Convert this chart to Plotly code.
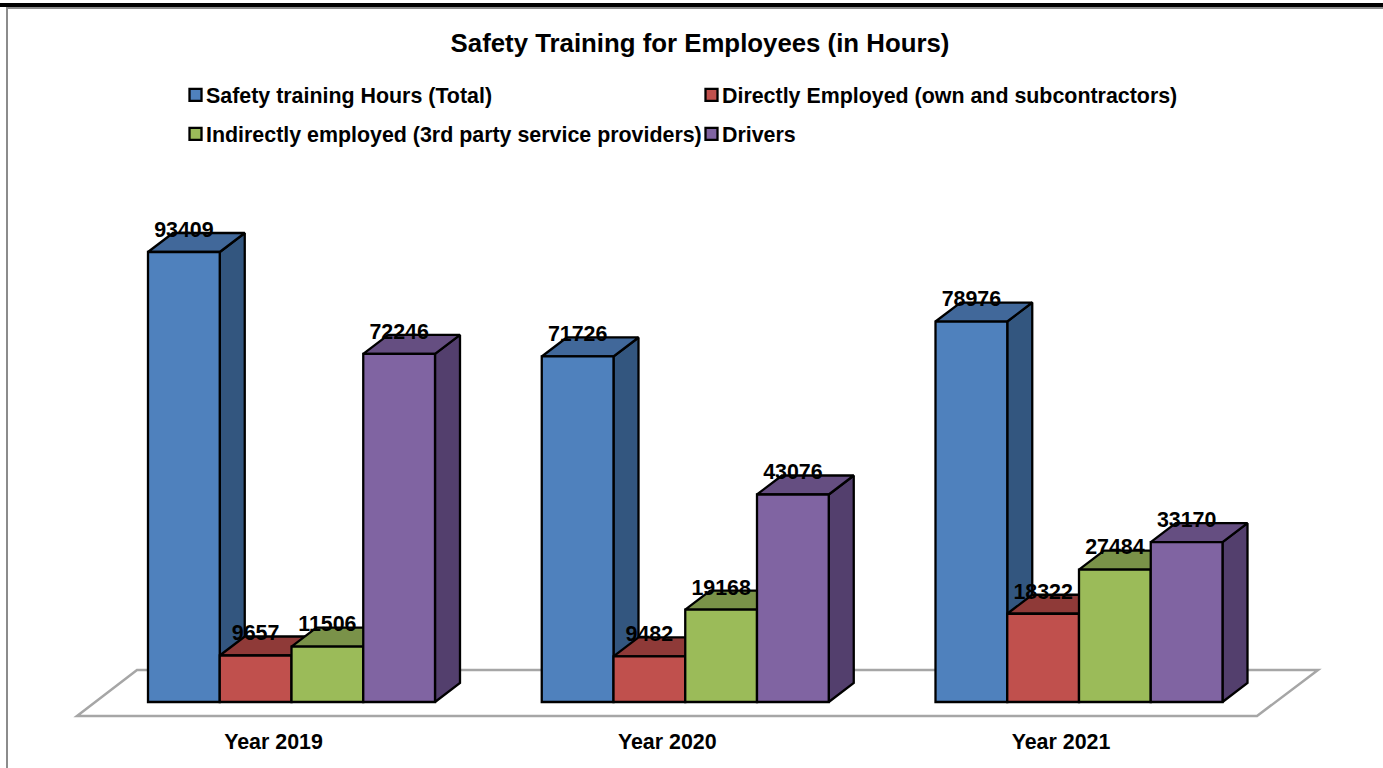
import plotly.graph_objects as go

categories = ["Year 2019", "Year 2020", "Year 2021"]
total_hours = [93409, 71726, 78976]
direct_hours = [9657, 9482, 18322]
indirect_hours = [11506, 19168, 27484]
driver_hours = [72246, 43076, 33170]

series_names = [
    "Safety training Hours (Total)",
    "Directly Employed (own and subcontractors)",
    "Indirectly employed (3rd party service providers)",
    "Drivers",
]
series_values = [total_hours, direct_hours, indirect_hours, driver_hours]
front_colors = ["#4F81BD", "#C0504D", "#9BBB59", "#8064A2"]
top_colors = ["#41689A", "#8F3A38", "#7A9249", "#654E81"]
side_colors = ["#33567F", "#7D3331", "#677C3C", "#533F6D"]
legend_ids = ["legend", "legend", "legend2", "legend2"]

W, H = 1383, 768
PLOT_H = 722
PX_X = 393.75          # pixels per category
PX_Y = 450 / 93409     # pixels per hour
X0_PX, Y0_PX = 291.5, 702
BAR_W = 71.75 / PX_X
DX = 25 / PX_X
DY = 19 / PX_Y
LABEL_DY = 20.5 / PX_Y
FONT = "Liberation Sans"
EDGE = 2.3

x_range = [-X0_PX / PX_X, (W - X0_PX) / PX_X]
y_range = [(Y0_PX - PLOT_H) / PX_Y, Y0_PX / PX_Y]
xpos = list(range(len(categories)))


def px(x):
    return x / W


def py(y):
    return 1 - y / PLOT_H


def bar_left(i, j):
    return i + (j - 2) * BAR_W


fig = go.Figure()

# depth faces, painted series by series so nearer blocks cover farther ones
for j, vals in enumerate(series_values):
    side_x, side_y, top_x, top_y = [], [], [], []
    for i, v in enumerate(vals):
        l = bar_left(i, j)
        r = l + BAR_W
        side_x += [r, r + DX, r + DX, r, r, None]
        side_y += [0, DY, v + DY, v, 0, None]
        top_x += [l, l + DX, r + DX, r, l, None]
        top_y += [v, v + DY, v + DY, v, v, None]
    for xs, ys, col in ((side_x, side_y, side_colors[j]), (top_x, top_y, top_colors[j])):
        fig.add_trace(go.Scatter(
            x=xs, y=ys, mode="lines", fill="toself", fillcolor=col,
            line=dict(color="#000000", width=EDGE), showlegend=False,
            hoverinfo="skip", xaxis="x", yaxis="y",
        ))

# front faces
for j, (name, vals) in enumerate(zip(series_names, series_values)):
    fig.add_trace(go.Bar(
        x=xpos, y=vals, name=name, marker=dict(color=front_colors[j], line=dict(color="#000000", width=EDGE)),
        xaxis="x2", yaxis="y2", legend=legend_ids[j],
    ))

# value labels
for j, vals in enumerate(series_values):
    fig.add_trace(go.Scatter(
        x=[bar_left(i, j) + BAR_W / 2 for i in xpos],
        y=[v + LABEL_DY for v in vals],
        text=[str(v) for v in vals],
        mode="text", textposition="middle center",
        textfont=dict(family=FONT, size=21.4, color="#000000", weight=700),
        showlegend=False, hoverinfo="skip", xaxis="x2", yaxis="y2",
    ))

floor_pts = [(77, 716), (1257, 716), (1318, 670), (137, 670)]
floor_path = "M" + "L".join(f"{px(a):.5f},{py(b):.5f}" for a, b in floor_pts) + "Z"

shapes = [
    dict(type="path", path=floor_path, xref="paper", yref="paper", layer="below",
         line=dict(color="#A6A6A6", width=2.5), fillcolor="#FFFFFF"),
    dict(type="line", xref="paper", yref="paper", x0=px(7), x1=px(7), y0=py(7), y1=py(768),
         line=dict(color="#8C8C8C", width=2), layer="below"),
    dict(type="line", xref="paper", yref="paper", x0=px(6), x1=1, y0=py(8), y1=py(8),
         line=dict(color="#8C8C8C", width=2), layer="below"),
    dict(type="rect", xref="paper", yref="paper", x0=0, x1=1, y0=py(3), y1=py(7),
         line=dict(width=0), fillcolor="#000000", layer="above"),
]

legend_common = dict(
    orientation="h", xanchor="left", yanchor="middle", indentation=-15, itemwidth=30,
    entrywidth=486, entrywidthmode="pixels", bgcolor="rgba(0,0,0,0)", borderwidth=0,
    font=dict(family=FONT, size=21.4, color="#000000", weight=700),
    itemclick=False, itemdoubleclick=False, traceorder="normal",
)

fig.update_layout(
    width=W, height=H,
    margin=dict(l=0, r=0, t=0, b=H - PLOT_H, pad=0, autoexpand=False),
    paper_bgcolor="#FFFFFF", plot_bgcolor="rgba(0,0,0,0)",
    barmode="group", bargap=1 - 4 * BAR_W, bargroupgap=0,
    title=dict(text="Safety Training for Employees (in Hours)", x=700 / W, xref="paper", xanchor="center",
               y=1 - 43 / H, yref="container", yanchor="middle",
               font=dict(family=FONT, size=25.8, color="#000000", weight=700)),
    xaxis=dict(range=x_range, tickmode="array", tickvals=xpos, ticktext=categories, ticklabelshift=-18,
               showgrid=False, zeroline=False, showline=False, ticks="outside", ticklen=0,
               tickcolor="rgba(0,0,0,0)",
               tickfont=dict(family=FONT, size=21.4, color="#000000", weight=700)),
    yaxis=dict(range=y_range, visible=False),
    xaxis2=dict(range=x_range, overlaying="x", visible=False),
    yaxis2=dict(range=y_range, overlaying="y", visible=False),
    legend=dict(x=181 / W, y=py(95), **legend_common),
    legend2=dict(x=181 / W, y=py(134), **legend_common),
    shapes=shapes,
    showlegend=True,
)

# tighten the gap between each legend swatch and its text
post = """
document.body.style.margin='0';document.body.style.overflow='hidden';
document.querySelectorAll('g.traces g.layers').forEach(function(g){
  var t=g.getAttribute('transform')||'';var m=/translate\\(([-\\d.]+)/.exec(t);
  var x=m?parseFloat(m[1]):0;g.setAttribute('transform','translate('+(x+9.5)+',0)');
});
"""
fig.write_html("out.html", post_script=post, config={"displayModeBar": False})
